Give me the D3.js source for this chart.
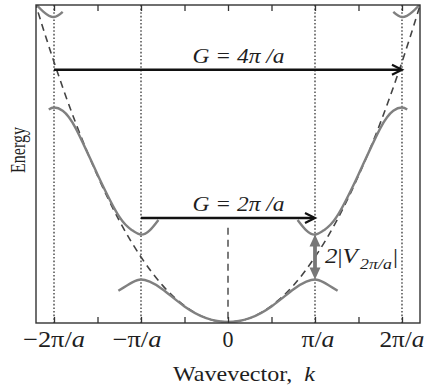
<!DOCTYPE html>
<html>
<head>
<meta charset="utf-8">
<script src="https://cdn.jsdelivr.net/npm/d3@7"></script>
<style>
  html, body { margin: 0; padding: 0; background: #fff; }
  svg { display: block; }
  text { font-family: "Liberation Serif", "DejaVu Serif", serif; fill: #1e1e1e; }
</style>
</head>
<body>
<svg id="chart" width="427" height="392"></svg>
<script>
// Wavevector k in units of pi/a, energy in units of the free-electron energy at k = pi/a.

// Tick positions along k, and the labelled ones
const kTicks = [-2, -1.5, -1, -0.5, 0, 0.5, 1, 1.5, 2];
const kLabelValues = [-2, -1, 0, 1, 2];
const kLabelTexts = ["−2π/a", "−π/a", "0", "π/a", "2π/a"];

// Brillouin-zone boundaries (dotted verticals)
const zoneBoundaries = [-2, -1, 1, 2];

// Free-electron parabola (dashed)
const freeK = [-2.3, -2.2, -2, -1.75, -1.5, -1.25, -1, -0.75, -0.5, -0.25, 0, 0.25, 0.5, 0.75, 1, 1.25, 1.5, 1.75, 2, 2.2, 2.3];
const freeE = [5.29, 4.84, 4.0, 3.06, 2.25, 1.56, 1.0, 0.56, 0.25, 0.06, 0, 0.06, 0.25, 0.56, 1.0, 1.56, 2.25, 3.06, 4.0, 4.84, 5.29];

// First band
const band1K = [-1.26, -1.1, -1, -0.9, -0.75, -0.5, -0.25, 0, 0.25, 0.5, 0.75, 0.9, 1, 1.1, 1.26];
const band1E = [0.48, 0.61, 0.655, 0.62, 0.5, 0.24, 0.06, 0.0, 0.06, 0.24, 0.5, 0.62, 0.655, 0.61, 0.48];

// Second band, left and right branches
const band2LeftK = [-2.06, -2, -1.9, -1.75, -1.5, -1.25, -1.1, -1, -0.9, -0.8];
const band2LeftE = [3.27, 3.3, 3.25, 2.98, 2.27, 1.62, 1.41, 1.345, 1.41, 1.57];
const band2RightK = [0.8, 0.9, 1, 1.1, 1.25, 1.5, 1.75, 1.9, 2, 2.06];
const band2RightE = [1.57, 1.41, 1.345, 1.41, 1.62, 2.27, 2.98, 3.25, 3.3, 3.27];

// Third band pieces near the top corners
const band3LeftK = [-2.25, -2.12, -2, -1.9];
const band3LeftE = [4.95, 4.77, 4.69, 4.77];
const band3RightK = [1.9, 2, 2.12, 2.25];
const band3RightE = [4.77, 4.69, 4.77, 4.95];

// Reciprocal-lattice translations drawn as arrows
const gFromK = [-2, -1];
const gToK = [2, 1];
const gEnergy = [3.88, 1.6];
const gLabels = ["G = 4π /a", "G = 2π /a"];

// Gap at k = pi/a
const gapK = 1;
const gapLow = 0.655;
const gapHigh = 1.345;

const svg = d3.select("#chart");
const x = d3.scaleLinear().domain([-2.207, 2.207]).range([36, 420]);
const y = d3.scaleLinear().domain([-0.015, 4.877]).range([323, 5]);

const [x0, x1] = x.range();
const [yB, yT] = y.range();

svg.append("defs").append("clipPath").attr("id", "plotClip")
  .append("rect").attr("x", x0).attr("y", yT).attr("width", x1 - x0).attr("height", yB - yT);

const plot = svg.append("g").attr("clip-path", "url(#plotClip)");

// Zone boundaries
plot.selectAll("line.zone").data(zoneBoundaries).join("line")
  .attr("class", "zone")
  .attr("x1", d => x(d)).attr("x2", d => x(d))
  .attr("y1", yT).attr("y2", yB)
  .attr("stroke", "#222").attr("stroke-width", 1.2)
  .attr("stroke-dasharray", "1.6,2");

// k = 0 dashed marker
plot.append("line")
  .attr("x1", x(0)).attr("x2", x(0))
  .attr("y1", y(1.45)).attr("y2", yB)
  .attr("stroke", "#444").attr("stroke-width", 1.4)
  .attr("stroke-dasharray", "7,5");

const line = d3.line().x(d => x(d[0])).y(d => y(d[1])).curve(d3.curveNatural);
const pairs = (ks, es) => ks.map((k, i) => [k, es[i]]);

// Free-electron parabola
plot.append("path")
  .attr("d", line(pairs(freeK, freeE)))
  .attr("fill", "none").attr("stroke", "#444").attr("stroke-width", 1.6)
  .attr("stroke-dasharray", "7,5");

// Energy bands
const bands = [
  pairs(band1K, band1E),
  pairs(band2LeftK, band2LeftE),
  pairs(band2RightK, band2RightE),
  pairs(band3LeftK, band3LeftE),
  pairs(band3RightK, band3RightE)
];
plot.selectAll("path.band").data(bands).join("path")
  .attr("class", "band")
  .attr("d", d => line(d))
  .attr("fill", "none").attr("stroke", "#808080").attr("stroke-width", 2.4);

// Frame and inward ticks
svg.append("rect")
  .attr("x", x0).attr("y", yT).attr("width", x1 - x0).attr("height", yB - yT)
  .attr("fill", "none").attr("stroke", "#333").attr("stroke-width", 1.4);

const bottomAxis = d3.axisBottom(x).tickValues(kTicks).tickSizeInner(-6).tickSizeOuter(0).tickFormat("");
const topAxis = d3.axisTop(x).tickValues(kTicks).tickSizeInner(-6).tickSizeOuter(0).tickFormat("");
const gb = svg.append("g").attr("transform", `translate(0,${yB})`).call(bottomAxis);
const gt = svg.append("g").attr("transform", `translate(0,${yT})`).call(topAxis);
[gb, gt].forEach(g => {
  g.select(".domain").remove();
  g.selectAll(".tick line").attr("stroke", "#333").attr("stroke-width", 1.3);
});

// Writes a math-style string: Latin letters italic, the rest upright
function mathText(sel, str) {
  const parts = str.match(/([A-Za-z]+|[^A-Za-z]+)/g) || [];
  parts.forEach(p => {
    sel.append("tspan")
      .attr("font-style", /[A-Za-z]/.test(p) ? "italic" : "normal")
      .text(p);
  });
}

// Tick labels; a leading minus sign shifts the label a little to the left
const labelWidths = [62, 49, 11, 33, 45];
kLabelValues.forEach((k, i) => {
  const t = svg.append("text")
    .attr("x", x(k) + (k === -1 ? -4 : 0) + (k === 1 ? 3 : 0)).attr("y", 347)
    .attr("text-anchor", "middle")
    .attr("font-size", 23);
  mathText(t, kLabelTexts[i]);
  t.attr("textLength", labelWidths[i]).attr("lengthAdjust", "spacingAndGlyphs");
});

// Axis titles
const xt = svg.append("text")
  .attr("x", 244).attr("y", 381)
  .attr("text-anchor", "middle").attr("font-size", 22)
  .attr("textLength", 142).attr("lengthAdjust", "spacingAndGlyphs");
xt.append("tspan").text("Wavevector,\u00a0\u00a0");
xt.append("tspan").attr("font-style", "italic").text("k");

svg.append("text")
  .attr("transform", "translate(25,150) rotate(-90) scale(1,1.15)")
  .attr("text-anchor", "middle").attr("font-size", 19)
  .attr("textLength", 46).attr("lengthAdjust", "spacingAndGlyphs")
  .text("Energy");

// G arrows
gFromK.forEach((k, i) => {
  const yy = y(gEnergy[i]);
  const xa = x(k), xb = x(gToK[i]);
  svg.append("line")
    .attr("x1", xa).attr("x2", xb - 1).attr("y1", yy).attr("y2", yy)
    .attr("stroke", "#111").attr("stroke-width", 2.6);
  svg.append("path")
    .attr("d", `M${xb - 10},${yy - 5}L${xb},${yy}L${xb - 10},${yy + 5}`)
    .attr("fill", "none").attr("stroke", "#111").attr("stroke-width", 2.2)
    .attr("stroke-linejoin", "miter");
  svg.append("text")
    .attr("x", 238.5).attr("y", yy - 7)
    .attr("text-anchor", "middle").attr("font-size", 20)
    .attr("font-style", "italic")
    .attr("textLength", 92).attr("lengthAdjust", "spacingAndGlyphs")
    .text(gLabels[i]);
});

// Gap arrow at k = pi/a
const gx = x(gapK), gy1 = y(gapHigh), gy2 = y(gapLow);
svg.append("line")
  .attr("x1", gx).attr("x2", gx).attr("y1", gy1 + 8).attr("y2", gy2 - 8)
  .attr("stroke", "#777").attr("stroke-width", 3.8);
svg.append("path")
  .attr("d", `M${gx},${gy1}L${gx - 5.5},${gy1 + 12}L${gx + 5.5},${gy1 + 12}Z M${gx},${gy2}L${gx - 5.5},${gy2 - 12}L${gx + 5.5},${gy2 - 12}Z`)
  .attr("fill", "#777");

const gl = svg.append("text").attr("x", 325).attr("y", 263).attr("font-size", 21)
  .attr("textLength", 73).attr("lengthAdjust", "spacingAndGlyphs");
gl.append("tspan").attr("font-style", "italic").text("2");
gl.append("tspan").text("|");
gl.append("tspan").attr("font-style", "italic").text("V");
gl.append("tspan").attr("dy", 6).attr("font-size", 15).attr("font-style", "italic")
  .attr("dx", 2).text("2π/a");
gl.append("tspan").attr("dy", -6).attr("dx", 1).text("|");
</script>
</body>
</html>
